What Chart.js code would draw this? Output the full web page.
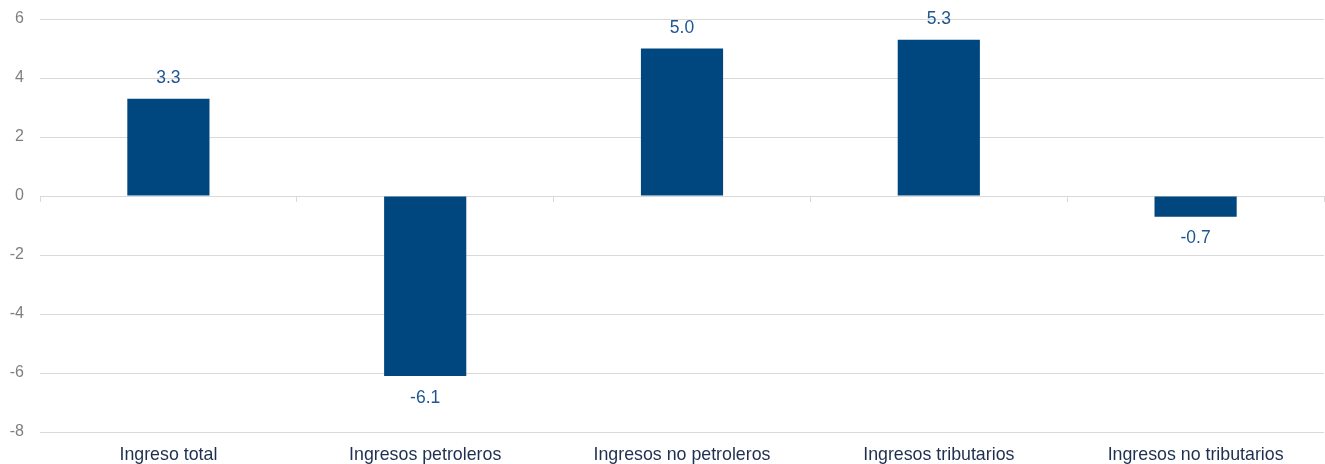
<!DOCTYPE html>
<html>
<head>
<meta charset="utf-8">
<script src="https://cdn.jsdelivr.net/npm/chart.js@4.4.1/dist/chart.umd.min.js"></script>
<style>
  html, body { margin: 0; padding: 0; background: #ffffff; }
  #wrap { width: 1325px; height: 464px; position: relative; }
</style>
</head>
<body>
<div id="wrap"><canvas id="chart"></canvas></div>
<script>
// Categories and values (percent change)
const categories = ["Ingreso total", "Ingresos petroleros", "Ingresos no petroleros", "Ingresos tributarios", "Ingresos no tributarios"];
const values = [3.3, -6.1, 5.0, 5.3, -0.7];
const yTicks = [6, 4, 2, 0, -2, -4, -6, -8];

const barColor = "#00467f";
const labelColor = "#1f5591";
const gridColor = "#d9d9d9";
const fontFamily = "'Liberation Sans', Arial, sans-serif";

// Value labels above positive bars and below negative ones
const valueLabels = {
  id: "valueLabels",
  afterDatasetsDraw(chart) {
    const ctx = chart.ctx;
    const meta = chart.getDatasetMeta(0);
    ctx.save();
    ctx.font = "17.5px " + fontFamily;
    ctx.fillStyle = labelColor;
    ctx.textAlign = "center";
    ctx.textBaseline = "middle";
    meta.data.forEach((bar, i) => {
      const v = values[i];
      const y = v >= 0 ? bar.y - 20 : bar.y + 22;
      ctx.fillText(v.toFixed(1), bar.x, y);
    });
    ctx.restore();
  }
};

new Chart(document.getElementById("chart"), {
  type: "bar",
  data: {
    labels: categories,
    datasets: [{
      data: values,
      backgroundColor: barColor,
      borderWidth: 0,
      categoryPercentage: 1.0,
      barPercentage: 0.32,
      xAxisID: "x",
      yAxisID: "y"
    }]
  },
  options: {
    responsive: true,
    maintainAspectRatio: false,
    animation: false,
    layout: { padding: { top: 19, right: 1, left: 0, bottom: 0 } },
    plugins: {
      legend: { display: false },
      tooltip: { enabled: false }
    },
    scales: {
      x: {
        type: "category",
        position: "bottom",
        grid: { display: false },
        border: { display: false },
        ticks: {
          color: "#1f2f4f",
          font: { family: fontFamily, size: 17.8 },
          padding: 4,
          maxRotation: 0,
          autoSkip: false
        },
        afterFit(scale) { scale.height = 32; }
      },
      xZero: {
        type: "category",
        labels: categories,
        position: { y: 0 },
        offset: true,
        grid: {
          display: true,
          drawOnChartArea: false,
          drawTicks: true,
          tickLength: 5,
          offset: true,
          color: gridColor
        },
        border: { display: true, color: gridColor },
        ticks: { display: false }
      },
      y: {
        min: -8,
        max: 6,
        afterBuildTicks(scale) {
          scale.ticks = yTicks.map(v => ({ value: v }));
        },
        grid: { color: gridColor, drawTicks: false },
        border: { display: false },
        ticks: {
          color: "#7f7f7f",
          font: { family: fontFamily, size: 16 },
          padding: 16
        },
        afterFit(scale) {
          scale.width = 40;
          scale.paddingTop = 0;
          scale.paddingBottom = 0;
        }
      }
    }
  },
  plugins: [valueLabels]
});
</script>
</body>
</html>
